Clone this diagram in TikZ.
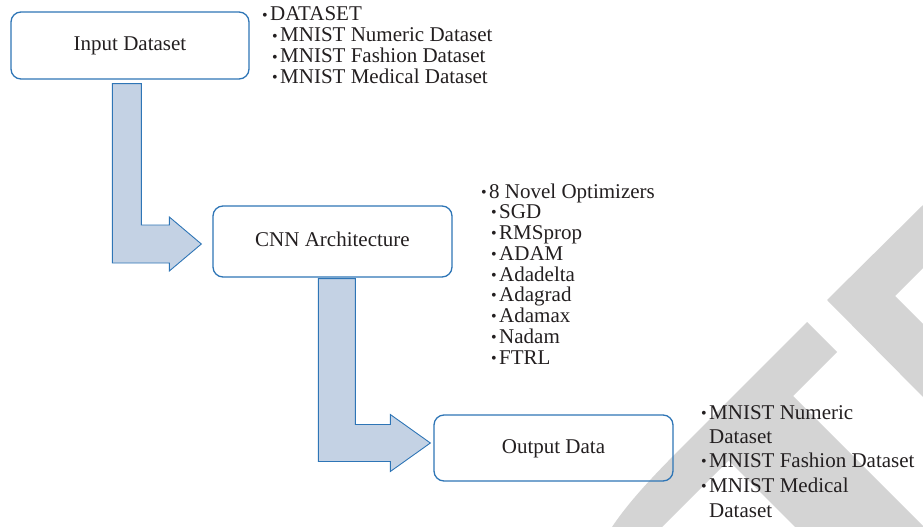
\documentclass[tikz,border=0pt]{standalone}
\usepackage{fontspec}
\setmainfont{Liberation Serif}
\usetikzlibrary{calc}
\definecolor{boxblue}{RGB}{46,117,182}
\definecolor{arrfill}{RGB}{196,210,228}
\definecolor{wmgray}{RGB}{212,212,212}
\definecolor{txtcol}{RGB}{35,31,32}
\newcommand{\bul}{\makebox[8pt][l]{\raisebox{0.8pt}{\fontsize{16}{16}\selectfont •}}}
\begin{document}
\begin{tikzpicture}[x=1pt,y=-1pt,
  font=\fontsize{21}{21}\selectfont, text=txtcol,
  boxnode/.style={draw=boxblue, line width=1.3pt, rounded corners=10pt, inner sep=0pt,
                  text height=14pt, text depth=4pt},
  barrow/.style={fill=arrfill, draw=boxblue, line width=0.9pt, line join=miter},
  wmark/.style={fill=wmgray, draw=none},
  item/.style={anchor=base west, inner sep=0pt}]
\path[use as bounding box] (0,0) rectangle (923,527);

% watermark
\fill[wmark] (923,205) -- (827,300) -- (923,397) -- (923,324) -- (895,296) -- (923,268) -- cycle;
\fill[wmark] (807,322) -- (837,352) -- (793,396) -- (923,526) -- (923,527) -- (795,527)
  -- (728.5,460.5) -- (662,527) -- (612,527) .. controls (630,500) and (655,474) .. (690,439) -- cycle;

% boxes
\node[boxnode, minimum width=238pt, minimum height=67pt] (in)  at (130,45.5)  {Input Dataset};
\node[boxnode, minimum width=239pt, minimum height=71pt] (cnn) at (332.5,241.5) {CNN Architecture};
\node[boxnode, minimum width=239pt, minimum height=66pt] (out) at (553.5,448) {Output Data};

% bent arrows
\coordinate (a1s) at ($(in.south west)+(102,4)$);
\coordinate (a1t) at ($(cnn.west)+(-11,2.5)$);
\draw[barrow] (a1s) -- ++(29,0) |- ($(a1t)+(-32,-19)$) -- ++(0,-8) -- (a1t)
  -- ($(a1t)+(-32,27)$) -- ++(0,-8) -| (a1s) -- cycle;

\coordinate (a2s) at ($(cnn.south west)+(106,1)$);
\coordinate (a2t) at ($(out.west)+(-3,-5)$);
\draw[barrow] (a2s) -- ++(37,0) |- ($(a2t)+(-40,-18.5)$) -- ++(0,-10) -- (a2t)
  -- ($(a2t)+(-40,28.5)$) -- ++(0,-10) -| (a2s) -- cycle;

% input list
\node[item] (d0) at (262,21)   {\bul DATASET};
\node[item] (d1) at (272,42)   {\bul MNIST Numeric Dataset};
\node[item] (d2) at (272,63)   {\bul MNIST Fashion Dataset};
\node[item] (d3) at (272,83.5) {\bul MNIST Medical Dataset};

% optimizer list
\node[item] (o0) at (481,198)    {\bul 8 Novel Optimizers};
\node[item] (o1) at (491,218.75) {\bul SGD};
\node[item] (o2) at (491,239.5)  {\bul RMSprop};
\node[item] (o3) at (491,260.25) {\bul ADAM};
\node[item] (o4) at (491,281)    {\bul Adadelta};
\node[item] (o5) at (491,301.75) {\bul Adagrad};
\node[item] (o6) at (491,322.5)  {\bul Adamax};
\node[item] (o7) at (491,343.25) {\bul Nadam};
\node[item] (o8) at (491,364)    {\bul FTRL};

% output list
\node[item] (r0) at (701,419.3) {\bul MNIST Numeric};
\node[item] (r1) at (709,443.8) {Dataset};
\node[item] (r2) at (701,467)   {\bul MNIST Fashion Dataset};
\node[item] (r3) at (701,492.3) {\bul MNIST Medical};
\node[item] (r4) at (709,517.5) {Dataset};
\end{tikzpicture}
\end{document}
